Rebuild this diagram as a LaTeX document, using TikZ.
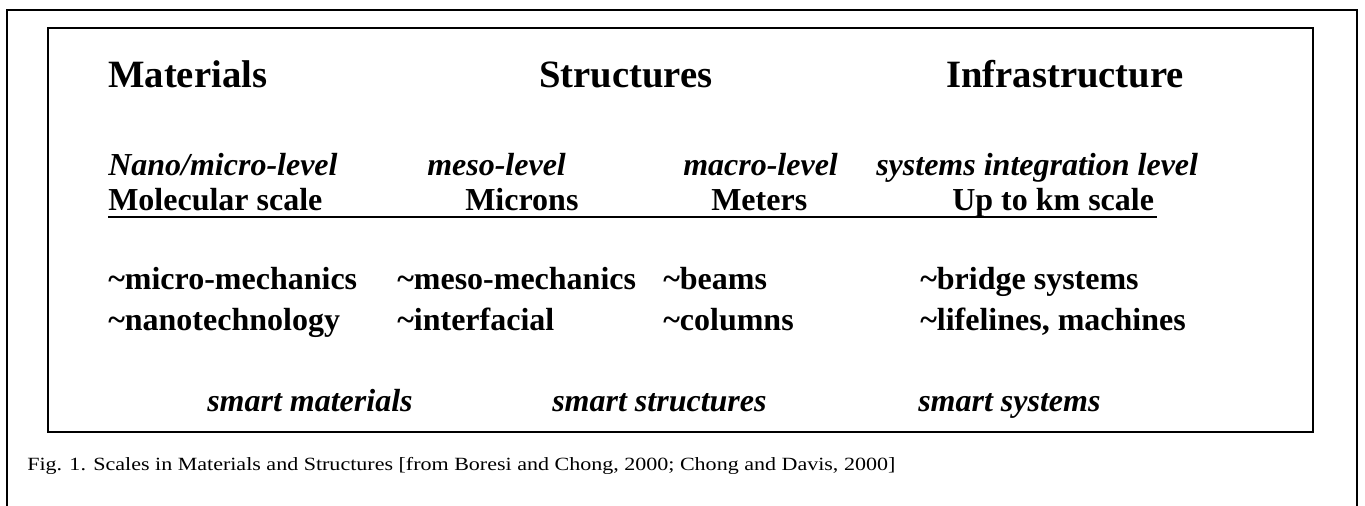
\documentclass[tikz,border=0pt]{standalone}
\usepackage{fontspec}
\setmainfont{Liberation Serif}
\newfontfamily\capfont{Liberation Serif}[FakeStretch=1.18]
\usetikzlibrary{positioning}

\begin{document}
\begin{tikzpicture}[
  x=0.75pt, y=-0.75pt,
  every node/.style={inner sep=0pt, anchor=base west},
  head/.style={font=\fontsize{29}{32}\selectfont\bfseries},
  lev/.style={font=\fontsize{24}{27}\selectfont\bfseries\itshape},
  item/.style={font=\fontsize{24}{27}\selectfont\bfseries},
  frame/.style={line width=1.6pt}
]
  \useasboundingbox (0,0) rectangle (1365,506);
  % outer frame, open at the bottom
  \draw[frame] (7,506) |- (1357,10) -- (1357,506);
  % inner box
  \draw[frame] (48,28) rectangle (1313,432);

  % the three headings
  \node[head] (mat) at (108,88) {Materials};
  \node[head] (str) at (539,88) {Structures};
  \node[head] (inf) at (946,88) {Infrastructure};

  % levels and scales
  \node[lev] (nano) at (108,176) {Nano/micro-level};
  \node[lev] (meso) at (427,176) {meso-level};
  \node[lev] (macro) at (683,176) {macro-level};
  \node[lev] (sys) at (876,176) {systems integration level};
  \node[item] (mol) at (108,211) {Molecular scale};
  \node[item] (mic) at (465,211) {Microns};
  \node[item] (met) at (711,211) {Meters};
  \node[item] (km) at (952,211) {Up to km scale};
  \coordinate (ul) at (108,217);
  \coordinate (ur) at (1157,217);
  \draw[line width=1.2pt] (ul) -- (ur);

  % topics
  \node[item] (mm) at (108,290) {\textasciitilde micro-mechanics};
  \node[item] (nt) at (108,330) {\textasciitilde nanotechnology};
  \node[item] (msm) at (397,290) {\textasciitilde meso-mechanics};
  \node[item] (itf) at (397,330) {\textasciitilde interfacial};
  \node[item] (bm) at (663,290) {\textasciitilde beams};
  \node[item] (col) at (663,330) {\textasciitilde columns};
  \node[item] (br) at (920,290) {\textasciitilde bridge systems};
  \node[item] (lf) at (920,330) {\textasciitilde lifelines, machines};

  % smart row
  \node[lev] (smat) at (207,411) {smart materials};
  \node[lev] (sstr) at (552,411) {smart structures};
  \node[lev] (ssys) at (918,411) {smart systems};

  \node[font=\capfont\fontsize{14}{16}\selectfont] (cap) at (27,470)
    {Fig. 1. Scales in Materials and Structures [from Boresi and Chong, 2000; Chong and Davis, 2000]};
\end{tikzpicture}
\end{document}
